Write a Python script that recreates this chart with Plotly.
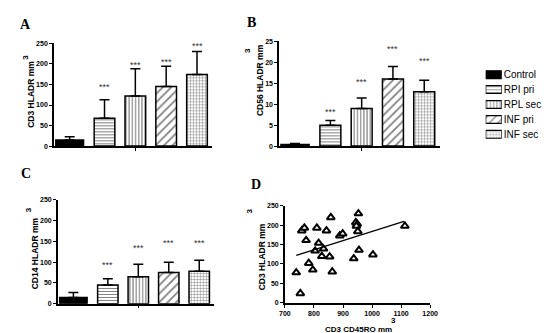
import numpy as np
import plotly.graph_objects as go

# ---------------- data ----------------
groups = ["Control", "RPI pri", "RPL sec", "INF pri", "INF sec"]

cd3_mean = [15, 68, 122, 145, 174]
cd3_err = [8, 45, 66, 49, 56]
cd3_stars = [None, 150, 205, 213, 250]

cd56_mean = [0.4, 5.0, 9.0, 16.0, 13.0]
cd56_err = [0.25, 1.1, 2.5, 3.0, 2.7]
cd56_stars = [None, 8.9, 15.9, 24.0, 21.0]

cd14_mean = [15, 45, 65, 75, 78]
cd14_err = [12, 15, 30, 25, 27]
cd14_stars = [None, 101, 142, 153, 153]

scatter_x = [739, 753, 758, 767, 773, 782, 796, 804, 810, 816, 827, 833, 843, 854,
             858, 863, 889, 899, 937, 944, 949, 946, 951, 953, 955, 1003, 1113]
scatter_y = [78, 24, 186, 193, 161, 102, 85, 134, 193, 154, 120, 139, 186, 119,
             220, 80, 173, 178, 114, 207, 203, 198, 184, 230, 136, 124, 198]

y_ticks_250 = [0, 50, 100, 150, 200, 250]
y_ticks_25 = [0, 5, 10, 15, 20, 25]
x_ticks_d = [700, 800, 900, 1000, 1100, 1200]

# ---------------- style ----------------
shapes_pat = ["", "-", "|", "/", "+"]
pat_size = [4, 3, 3.2, 6, 3]
pat_solid = [0.3, 0.35, 0.35, 0.28, 0.3]
fills = ["black", "white", "white", "white", "white"]
bar_w = [0.9, 0.67, 0.67, 0.67, 0.67]
bar_off = [-0.58, -0.335, -0.335, -0.335, -0.335]

FONT = "Liberation Sans"
W, H = 550, 333


def fx(px):
    return px / W


def fy(py):
    return 1 - py / H


def pattern(i):
    return dict(shape=shapes_pat[i], fgcolor="black", bgcolor=fills[i],
                size=pat_size[i], solidity=pat_solid[i])


fig = go.Figure()

panels = [
    ("x", "y", cd3_mean, cd3_err, cd3_stars),
    ("x2", "y2", cd56_mean, cd56_err, cd56_stars),
    ("x3", "y3", cd14_mean, cd14_err, cd14_stars),
]

annotations = []
for xa, ya, means, errs, stars in panels:
    for i, g in enumerate(groups):
        fig.add_trace(go.Bar(
            x=[g], y=[means[i]], xaxis=xa, yaxis=ya,
            name=g, showlegend=False,
            width=[bar_w[i]], offset=[bar_off[i]],
            marker=dict(color=fills[i], line=dict(color="black", width=1.5),
                        pattern=pattern(i)),
            error_y=dict(type="data", symmetric=False, array=[errs[i]],
                         arrayminus=[0], color="black", thickness=1.5, width=5),
        ))
        if stars[i] is not None:
            annotations.append(dict(
                x=g, y=stars[i], xref=xa, yref=ya, text="***", showarrow=False,
                font=dict(family=FONT, size=9, color="#333"), yanchor="middle", yshift=-3))

# legend drawn as a small key axis (swatch per group, label as tick text)
fig.add_trace(go.Bar(
    y=groups, x=[1] * len(groups), orientation="h", xaxis="x5", yaxis="y5",
    showlegend=False, width=0.52, hoverinfo="skip",
    marker=dict(color=fills, line=dict(color="black", width=1.2),
                pattern=dict(shape=shapes_pat, fgcolor="black", bgcolor=fills,
                             size=pat_size, solidity=pat_solid)),
))

# scatter
fig.add_trace(go.Scatter(
    x=scatter_x, y=scatter_y, xaxis="x4", yaxis="y4", mode="markers",
    showlegend=False,
    marker=dict(symbol="triangle-up", size=7, color="white",
                line=dict(color="black", width=2)),
))
slope, intercept = np.polyfit(scatter_x, scatter_y, 1)
fit_x = np.array([min(scatter_x), 1110])
fig.add_trace(go.Scatter(
    x=fit_x, y=slope * fit_x + intercept, xaxis="x4", yaxis="y4",
    mode="lines", showlegend=False, line=dict(color="black", width=1.2),
))

tickfont = dict(family=FONT, size=7, color="black", weight="bold")
axis_common = dict(showline=True, linecolor="black", linewidth=1.5, showgrid=False,
                   zeroline=False, ticks="outside", ticklen=3, tickwidth=1,
                   tickcolor="black", tickfont=tickfont)

bar_x = dict(axis_common, type="category", categoryorder="array",
             categoryarray=groups, range=[-0.64, 4.5],
             tickvals=["RPL sec"], ticktext=[""])

fig.update_layout(
    width=W, height=H, margin=dict(l=0, r=0, t=0, b=0),
    paper_bgcolor="white", plot_bgcolor="white", barmode="overlay",
    showlegend=False,
    xaxis=dict(bar_x, domain=[fx(41), fx(203.6)], anchor="y"),
    yaxis=dict(axis_common, domain=[fy(137), fy(32)], range=[0, 250],
               tickvals=y_ticks_250, anchor="x"),
    xaxis2=dict(bar_x, domain=[fx(272), fx(437)], anchor="y2"),
    yaxis2=dict(axis_common, domain=[fy(137), fy(30)], range=[0, 25],
                tickvals=y_ticks_25, anchor="x2"),
    xaxis3=dict(bar_x, domain=[fx(45), fx(205.7)], anchor="y3"),
    yaxis3=dict(axis_common, domain=[fy(298), fy(192)], range=[0, 250],
                tickvals=y_ticks_250, anchor="x3"),
    xaxis4=dict(axis_common, domain=[fx(278), fx(427)], range=[700, 1200],
                tickvals=x_ticks_d, anchor="y4"),
    yaxis4=dict(axis_common, domain=[fy(297), fy(198)], range=[0, 250],
                tickvals=y_ticks_250, anchor="x4"),
    xaxis5=dict(domain=[fx(484), fx(500.5)], range=[0, 1], visible=False,
                anchor="y5", fixedrange=True),
    yaxis5=dict(domain=[fy(132.6), fy(56.4)], type="category",
                categoryorder="array", categoryarray=groups, range=[4.5, -0.5],
                side="right", anchor="x5", showline=False, showgrid=False,
                zeroline=False, ticks="", ticklabelstandoff=1,
                tickfont=dict(family=FONT, size=10, color="black")),
)


def txt(px, py, s, size, angle=0, family=FONT, bold=True):
    annotations.append(dict(
        x=fx(px), y=fy(py), xref="paper", yref="paper", text=s, showarrow=False,
        textangle=angle, xanchor="center", yanchor="middle",
        font=dict(family=family, size=size, color="black",
                  weight="bold" if bold else "normal")))


# panel letters
txt(11.5, 12.5, "A", 14, family="Liberation Serif")
txt(244, 11, "B", 14, family="Liberation Serif")
txt(12, 165, "C", 14, family="Liberation Serif")
txt(248, 176, "D", 14, family="Liberation Serif")

# y titles with separated superscript 3
txt(18, 84, "CD3 HLADR mm", 8.5, -90)
txt(11, 46, "3", 8, -90)
txt(252, 70, "CD56 HLADR mm", 8.5, -90)
txt(239, 39, "3", 8, -90)
txt(21, 246, "CD14 HLADR mm", 8.5, -90)
txt(15, 202, "3", 8, -90)
txt(254, 250, "CD3 HLADR mm", 8.5, -90)
txt(242, 203, "3", 8, -90)

# x title D
txt(353, 324.5, "CD3 CD45RO mm", 8)
txt(389.5, 315.5, "3", 8)

fig.update_layout(annotations=annotations)
fig.write_html("out.html")
